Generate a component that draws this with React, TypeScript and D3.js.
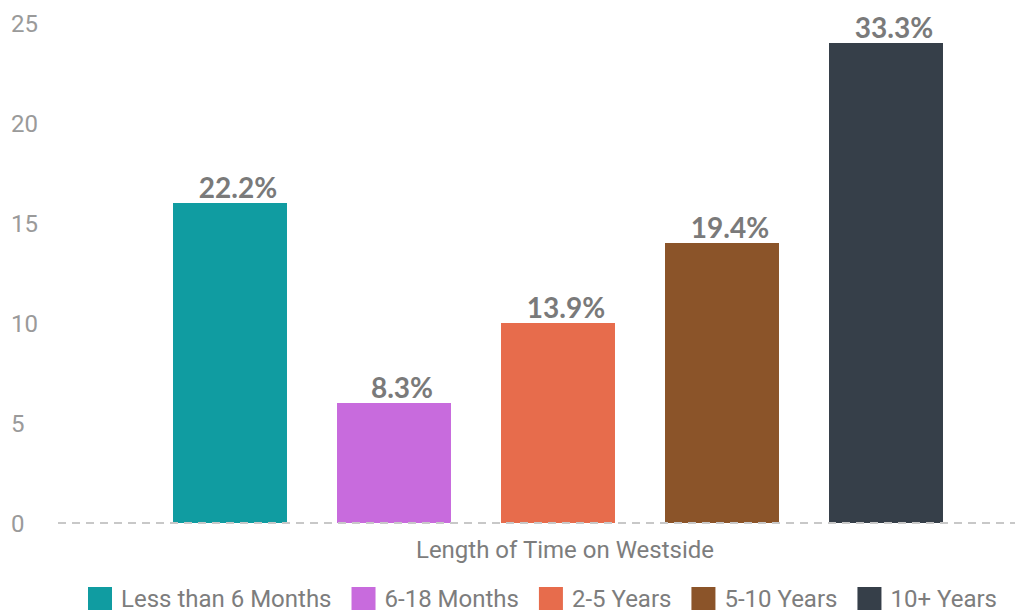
import React, {useEffect, useRef} from 'react';
import * as d3 from 'd3';

const categories = ['Less than 6 Months', '6-18 Months', '2-5 Years', '5-10 Years', '10+ Years'];
const counts = [16, 6, 10, 14, 24];
const percentLabels = ['22.2%', '8.3%', '13.9%', '19.4%', '33.3%'];
const colors = ['#109ca1', '#c86bdd', '#e76c4c', '#8b5429', '#363f49'];
const yTicks = [0, 5, 10, 15, 20, 25];
const axisTitle = 'Length of Time on Westside';

const App = () => {
    const svgRef = useRef(null);

    useEffect(() => {
        const svg = d3.select(svgRef.current);
        svg.selectAll('*').remove();

        const width = 1015;
        const height = 610;

        const yScale = d3.scaleLinear().domain([0, 25]).range([523, 23]);
        const xScale = d3
            .scaleBand()
            .domain(categories)
            .range([148, 968])
            .paddingInner(0.305)
            .paddingOuter(0.1525);

        // y tick labels
        svg.append('g')
            .selectAll('text')
            .data(yTicks)
            .join('text')
            .attr('x', 11)
            .attr('y', (d) => yScale(d))
            .attr('dy', '0.36em')
            .attr('font-family', 'Roboto, sans-serif')
            .attr('font-size', 24)
            .attr('fill', '#9a9a9a')
            .text((d) => d);

        // bars
        svg.append('g')
            .selectAll('rect')
            .data(counts)
            .join('rect')
            .attr('x', (d, i) => xScale(categories[i]))
            .attr('y', (d) => yScale(d))
            .attr('width', xScale.bandwidth())
            .attr('height', (d) => yScale(0) - yScale(d))
            .attr('fill', (d, i) => colors[i]);

        // baseline
        svg.append('line')
            .attr('x1', 58)
            .attr('x2', width)
            .attr('y1', yScale(0))
            .attr('y2', yScale(0))
            .attr('stroke', '#c8c8c8')
            .attr('stroke-width', 2)
            .attr('stroke-dasharray', '8,6');

        // value labels (sit slightly right of bar centre in the original)
        svg.append('g')
            .selectAll('text')
            .data(counts)
            .join('text')
            .attr('x', (d, i) => xScale(categories[i]) + xScale.bandwidth() / 2 + 8)
            .attr('y', (d) => yScale(d) - 5)
            .attr('text-anchor', 'middle')
            .attr('font-family', 'Lato, "Open Sans", sans-serif')
            .attr('font-weight', 'bold')
            .attr('font-size', 28)
            .attr('fill', '#7a7a7a')
            .text((d, i) => percentLabels[i]);

        // axis title
        svg.append('text')
            .attr('x', 565)
            .attr('y', 558)
            .attr('text-anchor', 'middle')
            .attr('font-family', 'Roboto, sans-serif')
            .attr('font-size', 24)
            .attr('fill', '#7d7d7d')
            .text(axisTitle);

        // legend
        const legend = svg.append('g');
        let x = 88;
        categories.forEach((c, i) => {
            legend.append('rect')
                .attr('x', x)
                .attr('y', 587)
                .attr('width', 24)
                .attr('height', 23)
                .attr('fill', colors[i]);
            const t = legend.append('text')
                .attr('x', x + 33)
                .attr('y', 607)
                .attr('font-family', 'Roboto, sans-serif')
                .attr('font-size', 24)
                .attr('fill', '#7d7d7d')
                .text(c);
            const w = t.node().getComputedTextLength();
            x += 33 + w + 20;
        });

        svg.attr('width', width).attr('height', height);
    }, []);

    return (
        <svg ref={svgRef} width={1015} height={610} style={{position: 'absolute', left: 0, top: 0, background: '#fff'}} />
    );
};

export default App;
